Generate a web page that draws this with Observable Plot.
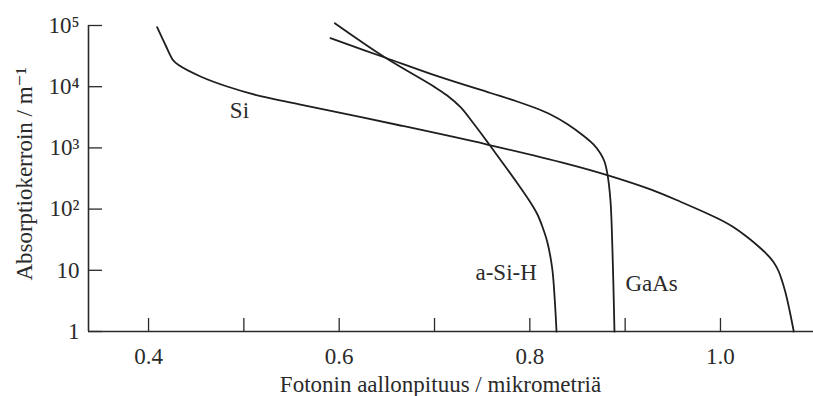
<!DOCTYPE html>
<html><head><meta charset="utf-8">
<script src="https://cdn.jsdelivr.net/npm/d3@7"></script>
<script src="https://cdn.jsdelivr.net/npm/@observablehq/plot@0.6"></script>
<style>body{margin:0;background:#fff}</style>
</head><body><div id="chart"></div>
<script>
// Wavelength (micrometres) and absorption coefficient (1/m)
const siX = [0.409, 0.418, 0.426, 0.4315, 0.4545, 0.4825, 0.5175, 0.5594, 0.6643, 0.7553, 0.8392, 0.8812, 0.9266, 0.958, 0.9962, 1.0126, 1.028, 1.0388, 1.049, 1.0556, 1.0609, 1.0645, 1.0682, 1.0724, 1.0769];
const siY = [94000, 47100, 26800, 22600, 14700, 10070, 7000, 5100, 2323, 1136, 550, 360, 210, 132, 71.6, 52, 35, 25.4, 18.1, 13.7, 9.74, 6.81, 4.34, 2.25, 1];
const asihX = [0.5954, 0.6486, 0.6993, 0.7133, 0.7273, 0.7412, 0.7569, 0.7762, 0.7867, 0.8007, 0.808, 0.8133, 0.8182, 0.8235, 0.8262, 0.828];
const asihY = [109000, 29700, 10070, 7180, 4625, 2477, 1167, 452, 267, 128, 81.6, 51, 29.6, 10.7, 3.21, 1];
const gaasX = [0.5909, 0.6486, 0.7063, 0.7587, 0.7867, 0.8059, 0.8217, 0.8392, 0.8566, 0.8668, 0.8741, 0.8783, 0.8815, 0.8846, 0.8867, 0.8888];
const gaasY = [62000, 29700, 14300, 7890, 5730, 4487, 3513, 2459, 1564, 1137, 809, 600, 367, 138, 21, 1];

const curveNames = ["Si", "a-Si-H", "GaAs"];
const labelX = [0.4853, 0.743, 0.9003];
const labelY = [3990, 9.0, 5.95];

const xTicks = [0.4, 0.5, 0.6, 0.7, 0.8, 0.9, 1.0];
const xTickLabels = [0.4, 0.6, 0.8, 1.0];
const yTicks = [1, 10, 100, 1000, 10000, 100000];
const yTickLabels = ["1", "10", "10²", "10³", "10⁴", "10⁵"];
const xTitle = "Fotonin aallonpituus / mikrometriä";
const yTitle = "Absorptiokerroin / m⁻¹";

const W = 813, H = 396, mL = 88, mR = 0, mT = 25, mB = 65;
const xDomain = [0.337, 1.0976];
const yDomain = [1, 100000];

const rows = [];
[[siX, siY], [asihX, asihY], [gaasX, gaasY]].forEach(([xs, ys], k) => {
  xs.forEach((x, i) => rows.push({name: curveNames[k], x, y: ys[i]}));
});

const ink = "#2a2a2a";
const plot = Plot.plot({
  width: W, height: H,
  marginLeft: mL, marginRight: mR, marginTop: mT, marginBottom: mB,
  style: {fontFamily: "'Liberation Serif', 'DejaVu Serif', serif", fontSize: "23px", color: ink, background: "#fff"},
  x: {domain: xDomain},
  y: {type: "log", domain: yDomain},
  marks: [
    Plot.ruleY([yDomain[0]], {stroke: ink, strokeWidth: 1.6}),
    Plot.ruleX([xDomain[0]], {stroke: ink, strokeWidth: 1.6}),
    Plot.ruleX(xTicks, {x: d => d, insetTop: H - mT - mB - 13, stroke: ink, strokeWidth: 1.3}),
    Plot.ruleY(yTicks, {y: d => d, insetRight: W - mL - mR - 14, stroke: ink, strokeWidth: 1.3}),
    Plot.axisX(xTickLabels, {tickSize: 0, tickPadding: 16, tickFormat: d3.format(".1f"), label: null, fontSize: 23}),
    Plot.axisY(yTicks, {tickSize: 0, tickPadding: 9, tickFormat: d => yTickLabels[yTicks.indexOf(d)], label: null, fontSize: 23}),
    Plot.line(rows, {x: "x", y: "y", z: "name", curve: "catmull-rom", stroke: "#1e1e1e", strokeWidth: 1.8}),
    Plot.text(curveNames, {x: (d, i) => labelX[i], y: (d, i) => labelY[i], text: d => d, textAnchor: "start", fontSize: 23, fill: ink}),
    Plot.text([xTitle], {frameAnchor: "bottom", dx: -10.5, dy: 53, text: d => d, textAnchor: "middle", lineAnchor: "middle", fontSize: 23, fill: ink}),
    Plot.text([yTitle], {frameAnchor: "left", dx: -64, dy: -4.5, rotate: -90, text: d => d, textAnchor: "middle", lineAnchor: "middle", fontSize: 23, fill: ink})
  ]
});
document.getElementById("chart").append(plot);
</script>
</body></html>
